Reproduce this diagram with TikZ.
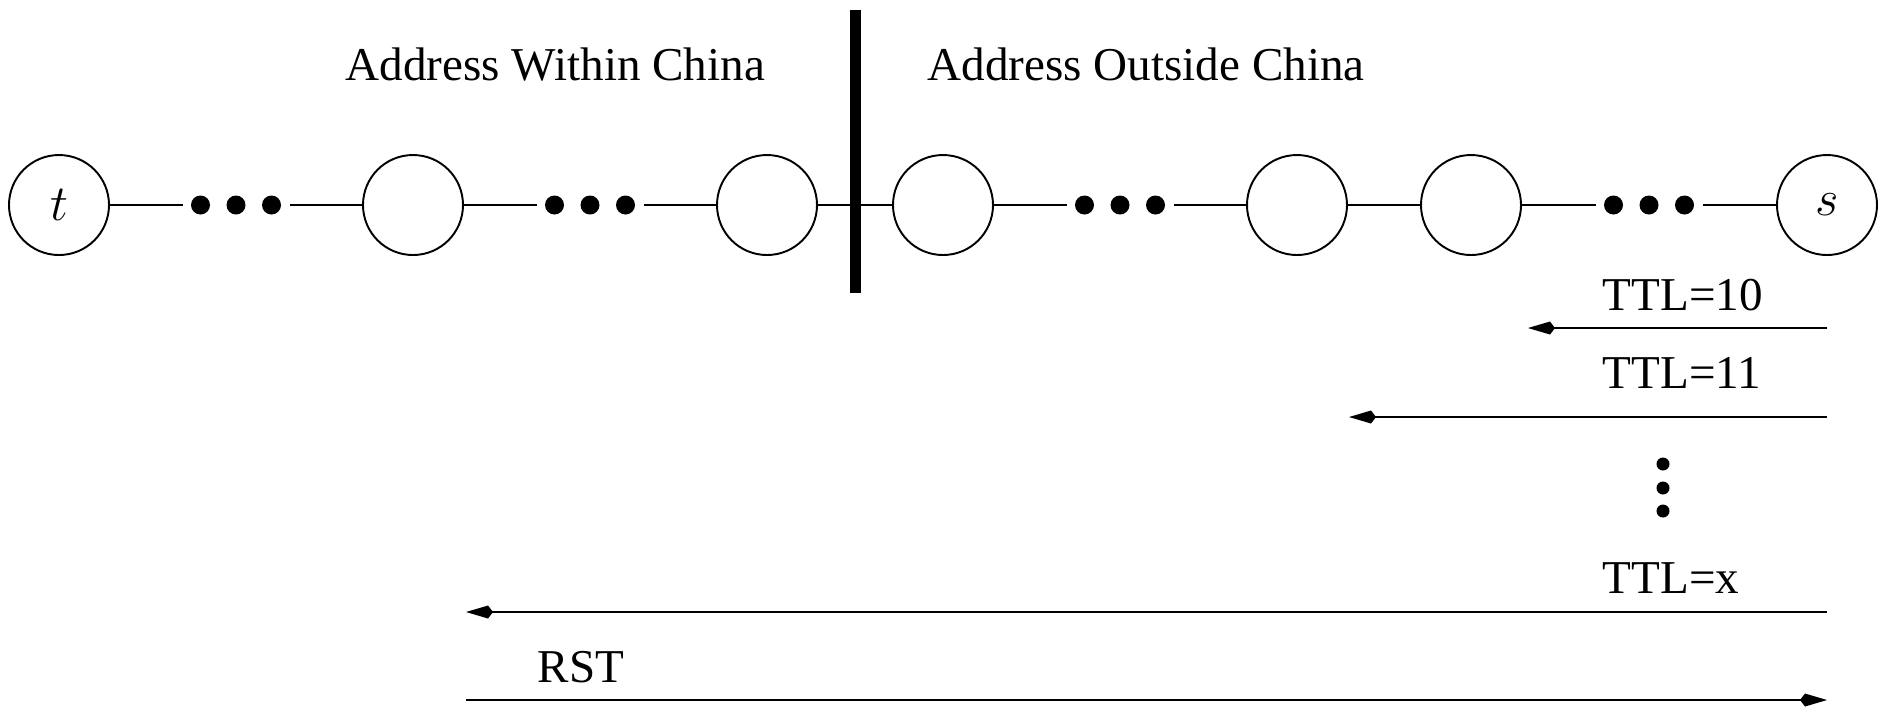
\documentclass[tikz,border=0pt]{standalone}
\usepackage{fontspec}
\setmainfont{Liberation Serif}
\usetikzlibrary{arrows.meta}

\begin{document}
\begin{tikzpicture}[x=0.1mm, y=-0.1mm,
  hop/.style={circle, draw, line width=0.55pt, minimum size=10mm, inner sep=0pt, font=\fontsize{14}{16}\selectfont},
  bigdot/.style={circle, fill, minimum size=1.9mm, inner sep=0pt, outer sep=0.85mm},
  smalldot/.style={circle, fill, minimum size=1.3mm, inner sep=0pt},
  link/.style={line width=0.55pt},
  probe/.style={line width=0.55pt, -{Kite[length=2.7mm, width=1.3mm, inset=0.5mm]}},
  lbl/.style={inner sep=0pt, anchor=base west, font=\fontsize{13.4}{16}\selectfont},
]
\useasboundingbox (0,0) rectangle (1885,708);

% the path of routers, from the target t to the source s
\node[hop] (t)  at (59,205)   {$t$};
\node[hop] (n1) at (413,205)  {};
\node[hop] (n2) at (767,205)  {};
\node[hop] (n3) at (943,205)  {};
\node[hop] (n4) at (1297,205) {};
\node[hop] (n5) at (1471,205) {};
\node[hop] (s)  at (1827,205) {$s$};

% elided hops
\foreach \g/\cx in {a/236, b/590, c/1120, d/1649} {
  \node[bigdot] (\g1) at (\cx-35.5,205) {};
  \node[bigdot] (\g2) at (\cx,205)      {};
  \node[bigdot] (\g3) at (\cx+35.5,205) {};
}

\draw[link] (t) -- (a1);  \draw[link] (a3) -- (n1);
\draw[link] (n1) -- (b1); \draw[link] (b3) -- (n2);
\draw[link] (n2) -- (n3);
\draw[link] (n3) -- (c1); \draw[link] (c3) -- (n4);
\draw[link] (n4) -- (n5);
\draw[link] (n5) -- (d1); \draw[link] (d3) -- (s);

% border between the two address spaces
\coordinate (barTop) at (855.5,10);
\coordinate (barBot) at (855.5,293);
\draw[line width=1.1mm] (barTop) -- (barBot);

\node[lbl] (within)  at (345,80) {Address Within China};
\node[lbl] (outside) at (927,80) {Address Outside China};

% probes sent from s with growing TTL
\coordinate (p10) at (1528,328);
\coordinate (p11) at (1349,417);
\coordinate (px)  at (466,612);
\coordinate (rstA) at (466,700);
\draw[probe] (s |- p10) -- (p10);
\draw[probe] (s |- p11) -- (p11);
\draw[probe] (s |- px) -- (px);
\draw[probe] (rstA) -- (s |- rstA);

\node[lbl] (ttl10) at (1602,310) {TTL=10};
\node[lbl] (ttl11) at (1602,388) {TTL=11};
\node[lbl] (ttlx)  at (1602,593) {TTL=x};
\node[lbl] (rst)   at (537,682)  {RST};

\node[smalldot] (v1) at (1663,464) {};
\node[smalldot] (v2) at (1663,488) {};
\node[smalldot] (v3) at (1663,511) {};
\end{tikzpicture}
\end{document}
